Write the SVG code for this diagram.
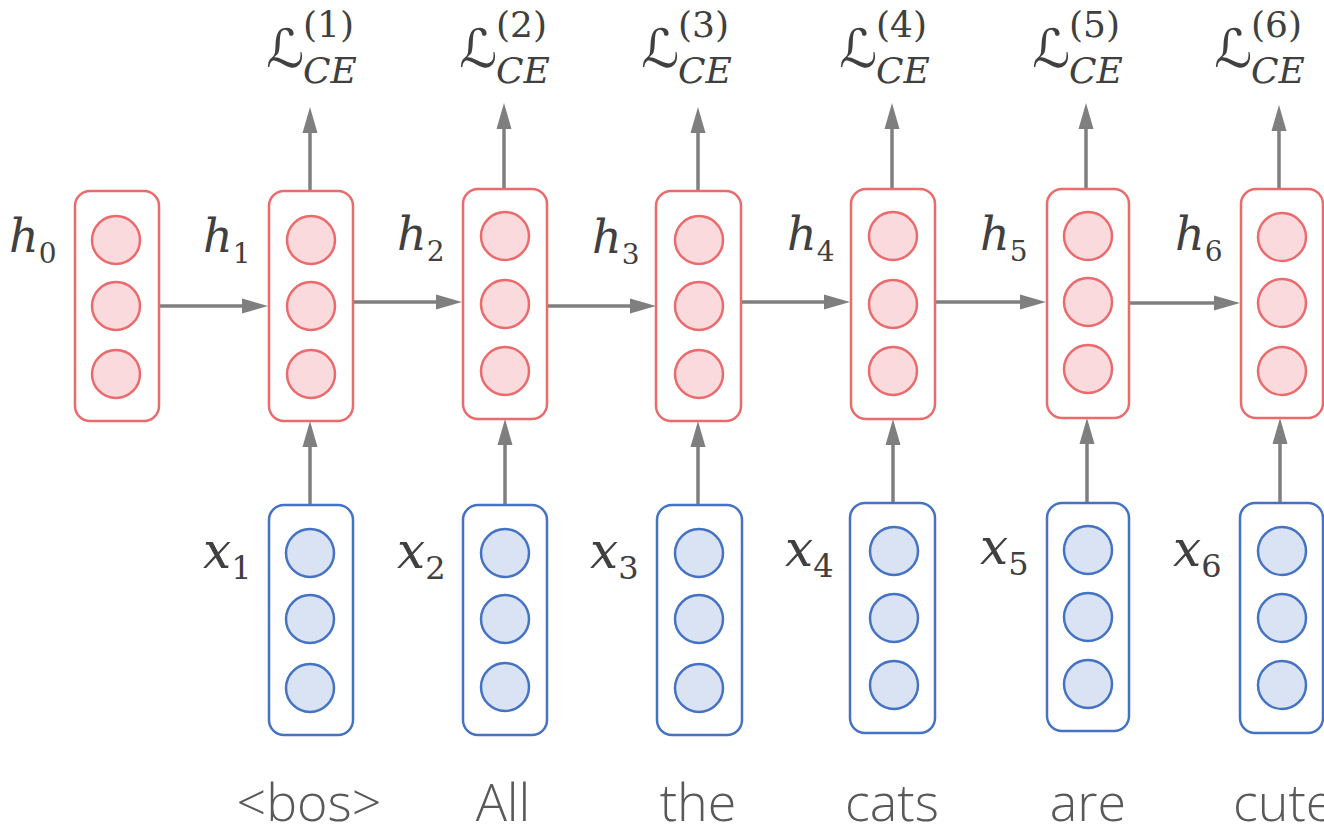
<svg xmlns="http://www.w3.org/2000/svg" width="1324" height="829" viewBox="0 0 1324 829">
<style>
.hb{fill:#ffffff;stroke:#EB6A6C;stroke-width:2.5}
.hc{fill:#FADADD;stroke:#EB6A6C;stroke-width:2.5}
.xb{fill:#ffffff;stroke:#4472C4;stroke-width:2.5}
.xc{fill:#DAE3F3;stroke:#4472C4;stroke-width:2.5}
.ar{stroke:#7F7F7F;stroke-width:3.5;fill:none;marker-end:url(#ah)}
.mi{font-family:"DejaVu Serif","Liberation Serif",serif;font-style:italic;fill:#404040}
.mu{font-family:"DejaVu Serif","Liberation Serif",serif;fill:#404040}
.sl{font-family:"DejaVu Serif","DejaVu Sans",serif;fill:#404040}
.w{font-family:"Open Sans","Noto Sans","Liberation Sans",sans-serif;font-weight:300;font-size:52px;fill:#595959;text-anchor:middle}
</style>
<defs>
<marker id="ah" markerUnits="userSpaceOnUse" markerWidth="26" markerHeight="16" refX="6" refY="8" orient="auto">
<path d="M0,0.5 L26,8 L0,15.5 z" fill="#7F7F7F"/>
</marker>
</defs>

<g id="connectors">
<line class="ar" x1="159" y1="306" x2="248" y2="306"/>
<line class="ar" x1="353" y1="302" x2="442" y2="302"/>
<line class="ar" x1="547" y1="306" x2="636" y2="306"/>
<line class="ar" x1="741" y1="302" x2="830" y2="302"/>
<line class="ar" x1="935" y1="302" x2="1026" y2="302"/>
<line class="ar" x1="1129" y1="303" x2="1220" y2="303"/>
<line class="ar" x1="310" y1="505" x2="310" y2="441"/>
<line class="ar" x1="505" y1="505" x2="505" y2="439"/>
<line class="ar" x1="698" y1="505" x2="698" y2="441"/>
<line class="ar" x1="893" y1="503" x2="893" y2="439"/>
<line class="ar" x1="1087" y1="503" x2="1087" y2="438"/>
<line class="ar" x1="1280" y1="503" x2="1280" y2="438"/>
<line class="ar" x1="310" y1="191" x2="310" y2="127"/>
<line class="ar" x1="504" y1="189" x2="504" y2="123"/>
<line class="ar" x1="698" y1="191" x2="698" y2="127"/>
<line class="ar" x1="892" y1="189" x2="892" y2="123"/>
<line class="ar" x1="1086" y1="189" x2="1086" y2="123"/>
<line class="ar" x1="1279" y1="189" x2="1279" y2="125"/>
</g>

<g id="h0">
<rect class="hb" x="75" y="191" width="84" height="230" rx="15"/>
<circle class="hc" cx="116" cy="240" r="24"/><circle class="hc" cx="116" cy="306" r="24"/><circle class="hc" cx="116" cy="374" r="24"/>
<text class="mi" x="9" y="252" font-size="46">h<tspan class="mu" font-style="normal" font-size="28" dy="11">0</tspan></text>
</g>
<g id="h1">
<rect class="hb" x="269" y="191" width="84" height="230" rx="15"/>
<circle class="hc" cx="311" cy="240" r="24"/><circle class="hc" cx="311" cy="306" r="24"/><circle class="hc" cx="311" cy="374" r="24"/>
<text class="mi" x="203" y="252" font-size="46">h<tspan class="mu" font-style="normal" font-size="28" dy="11">1</tspan></text>
</g>
<g id="h2">
<rect class="hb" x="463" y="189" width="84" height="230" rx="15"/>
<circle class="hc" cx="505" cy="236" r="24"/><circle class="hc" cx="505" cy="304" r="24"/><circle class="hc" cx="505" cy="371" r="24"/>
<text class="mi" x="397" y="250" font-size="46">h<tspan class="mu" font-style="normal" font-size="28" dy="11">2</tspan></text>
</g>
<g id="h3">
<rect class="hb" x="656" y="191" width="85" height="230" rx="15"/>
<circle class="hc" cx="699" cy="240" r="24"/><circle class="hc" cx="699" cy="306" r="24"/><circle class="hc" cx="699" cy="374" r="24"/>
<text class="mi" x="592" y="253" font-size="46">h<tspan class="mu" font-style="normal" font-size="28" dy="11">3</tspan></text>
</g>
<g id="h4">
<rect class="hb" x="851" y="189" width="84" height="230" rx="15"/>
<circle class="hc" cx="893" cy="236" r="24"/><circle class="hc" cx="893" cy="304" r="24"/><circle class="hc" cx="893" cy="371" r="24"/>
<text class="mi" x="787" y="250" font-size="46">h<tspan class="mu" font-style="normal" font-size="28" dy="11">4</tspan></text>
</g>
<g id="h5">
<rect class="hb" x="1047" y="189" width="82" height="229" rx="15"/>
<circle class="hc" cx="1088" cy="236" r="24"/><circle class="hc" cx="1088" cy="302" r="24"/><circle class="hc" cx="1088" cy="369" r="24"/>
<text class="mi" x="980" y="250" font-size="46">h<tspan class="mu" font-style="normal" font-size="28" dy="11">5</tspan></text>
</g>
<g id="h6">
<rect class="hb" x="1241" y="189" width="82" height="229" rx="15"/>
<circle class="hc" cx="1282" cy="237" r="24"/><circle class="hc" cx="1282" cy="303" r="24"/><circle class="hc" cx="1282" cy="371" r="24"/>
<text class="mi" x="1175" y="250" font-size="46">h<tspan class="mu" font-style="normal" font-size="28" dy="11">6</tspan></text>
</g>

<g id="x1">
<rect class="xb" x="269" y="505" width="84" height="230" rx="15"/>
<circle class="xc" cx="310" cy="553" r="24"/><circle class="xc" cx="310" cy="619" r="24"/><circle class="xc" cx="310" cy="688" r="24"/>
<text class="mi" x="203" y="568" font-size="50">x<tspan class="mu" font-style="normal" font-size="32" dy="11">1</tspan></text>
</g>
<g id="x2">
<rect class="xb" x="463" y="505" width="84" height="230" rx="15"/>
<circle class="xc" cx="505" cy="553" r="24"/><circle class="xc" cx="505" cy="619" r="24"/><circle class="xc" cx="505" cy="687" r="24"/>
<text class="mi" x="397" y="568" font-size="50">x<tspan class="mu" font-style="normal" font-size="32" dy="11">2</tspan></text>
</g>
<g id="x3">
<rect class="xb" x="657" y="505" width="85" height="230" rx="15"/>
<circle class="xc" cx="699" cy="553" r="24"/><circle class="xc" cx="699" cy="619" r="24"/><circle class="xc" cx="699" cy="688" r="24"/>
<text class="mi" x="590" y="568" font-size="50">x<tspan class="mu" font-style="normal" font-size="32" dy="11">3</tspan></text>
</g>
<g id="x4">
<rect class="xb" x="850" y="503" width="85" height="230" rx="15"/>
<circle class="xc" cx="894" cy="551" r="24"/><circle class="xc" cx="894" cy="618" r="24"/><circle class="xc" cx="894" cy="685" r="24"/>
<text class="mi" x="785" y="566" font-size="50">x<tspan class="mu" font-style="normal" font-size="32" dy="11">4</tspan></text>
</g>
<g id="x5">
<rect class="xb" x="1047" y="503" width="82" height="228" rx="15"/>
<circle class="xc" cx="1088" cy="550" r="24"/><circle class="xc" cx="1088" cy="617" r="24"/><circle class="xc" cx="1088" cy="684" r="24"/>
<text class="mi" x="980" y="564" font-size="50">x<tspan class="mu" font-style="normal" font-size="32" dy="11">5</tspan></text>
</g>
<g id="x6">
<rect class="xb" x="1240" y="503" width="83" height="230" rx="15"/>
<circle class="xc" cx="1282" cy="551" r="24"/><circle class="xc" cx="1282" cy="618" r="24"/><circle class="xc" cx="1282" cy="685" r="24"/>
<text class="mi" x="1173" y="566" font-size="50">x<tspan class="mu" font-style="normal" font-size="32" dy="11">6</tspan></text>
</g>

<g id="losses">
<g id="L1"><text class="sl" x="266" y="67" font-size="53">ℒ</text><text class="mi" x="303" y="83" font-size="36">CE</text><text class="mu" x="303" y="37" font-size="36">(1)</text></g>
<g id="L2"><text class="sl" x="459" y="67" font-size="53">ℒ</text><text class="mi" x="496" y="83" font-size="36">CE</text><text class="mu" x="496" y="37" font-size="36">(2)</text></g>
<g id="L3"><text class="sl" x="641" y="67" font-size="53">ℒ</text><text class="mi" x="678" y="83" font-size="36">CE</text><text class="mu" x="678" y="37" font-size="36">(3)</text></g>
<g id="L4"><text class="sl" x="839" y="67" font-size="53">ℒ</text><text class="mi" x="876" y="83" font-size="36">CE</text><text class="mu" x="876" y="37" font-size="36">(4)</text></g>
<g id="L5"><text class="sl" x="1032" y="67" font-size="53">ℒ</text><text class="mi" x="1069" y="83" font-size="36">CE</text><text class="mu" x="1069" y="37" font-size="36">(5)</text></g>
<g id="L6"><text class="sl" x="1214" y="67" font-size="53">ℒ</text><text class="mi" x="1251" y="83" font-size="36">CE</text><text class="mu" x="1251" y="37" font-size="36">(6)</text></g>
</g>

<g id="words">
<text class="w" x="309" y="821">&lt;bos&gt;</text>
<text class="w" x="503" y="821">All</text>
<text class="w" x="698" y="821">the</text>
<text class="w" x="892" y="821">cats</text>
<text class="w" x="1088" y="821">are</text>
<text class="w" x="1233" y="821" style="text-anchor:start">cute</text>
</g>
</svg>
